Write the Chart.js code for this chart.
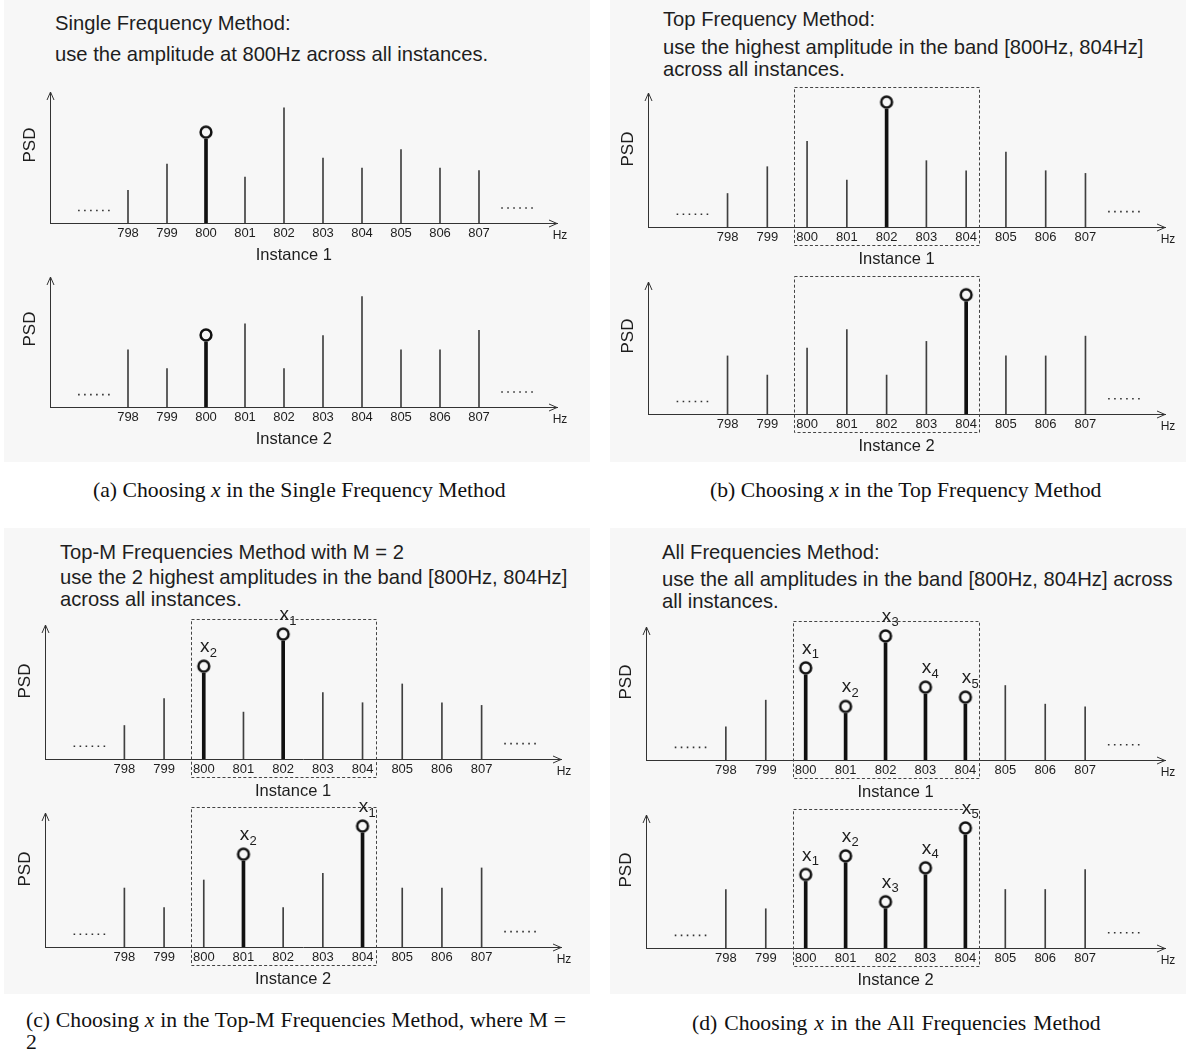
<!DOCTYPE html>
<html>
<head>
<meta charset="utf-8">
<script src="https://cdn.jsdelivr.net/npm/chart.js@4.4.1/dist/chart.umd.min.js"></script>
<style>
  html, body { margin: 0; padding: 0; background: #fff; }
  #page { position: relative; width: 1186px; height: 1064px; overflow: hidden;
          font-family: "Liberation Sans", Arial, sans-serif; color: #1e1e1e; }
  .bg { position: absolute; background: #f7f7f7; }
  .title { position: absolute; font-size: 20.2px; line-height: 1; white-space: nowrap; }
  .cap { position: absolute; font-family: "Liberation Serif", "Times New Roman", serif;
         font-size: 21.7px; line-height: 1; white-space: nowrap; color: #111; }
  canvas { position: absolute; }
</style>
</head>
<body>
<div id="page">
  <div class="bg" style="left:4px;top:0;width:586px;height:462px"></div>
  <div class="bg" style="left:610px;top:0;width:576px;height:462px"></div>
  <div class="bg" style="left:4px;top:528px;width:586px;height:466px"></div>
  <div class="bg" style="left:610px;top:528px;width:576px;height:466px"></div>

  <div class="title" style="left:55px;top:13px">Single Frequency Method:</div>
  <div class="title" style="left:55px;top:44px">use the amplitude at 800Hz across all instances.</div>

  <div class="title" style="left:663px;top:9px">Top Frequency Method:</div>
  <div class="title" style="left:663px;top:37px">use the highest amplitude in the band [800Hz, 804Hz]</div>
  <div class="title" style="left:663px;top:59px">across all instances.</div>

  <div class="title" style="left:60px;top:542px">Top-M Frequencies Method with M = 2</div>
  <div class="title" style="left:60px;top:567px">use the 2 highest amplitudes in the band [800Hz, 804Hz]</div>
  <div class="title" style="left:60px;top:589px">across all instances.</div>

  <div class="title" style="left:662px;top:542px">All Frequencies Method:</div>
  <div class="title" style="left:662px;top:569px">use the all amplitudes in the band [800Hz, 804Hz] across</div>
  <div class="title" style="left:662px;top:591px">all instances.</div>

  <div class="cap" style="left:93px;top:480px">(a) Choosing <i>x</i> in the Single Frequency Method</div>
  <div class="cap" style="left:710px;top:480px">(b) Choosing <i>x</i> in the Top Frequency Method</div>
  <div class="cap" style="left:26px;top:1010px;width:540px;text-align:justify;text-align-last:justify;white-space:normal">(c) Choosing <i>x</i> in the Top-M Frequencies Method, where M =</div>
  <div class="cap" style="left:26px;top:1032px">2</div>
  <div class="cap" style="left:692px;top:1013px;word-spacing:1.5px">(d) Choosing <i>x</i> in the All Frequencies Method</div>
</div>

<script>
// Frequenzen und Amplituden (PSD, 0..100 = Höhe der y-Achse)
const freqs = [798, 799, 800, 801, 802, 803, 804, 805, 806, 807];
const instance1 = [25, 45, 64, 35, 88, 49.5, 42, 56, 42, 40];
const instance2 = [44, 29.5, 50, 64, 29.5, 55, 85, 44, 44, 59];

// "......" links und rechts
const leftDotsX = [796.72, 797.57];
const leftDotsY = 9.5;
const rightDotsX = [807.57, 808.42];
const rightDotsY = 11.5;

// Band [800Hz, 804Hz]
const band = [799.67, 804.33];
const xRange = [796, 809];
const yRange = [0, 100];

// Ausgewählte Frequenzen pro Panel und deren Indizes (x_n)
const aPicks1 = [800], aPicks2 = [800];
const bPicks1 = [802], bPicks2 = [804];
const cPicks1 = [800, 802], cSubs1 = ['2', '1'];
const cPicks2 = [801, 804], cSubs2 = ['2', '1'];
const dPicks1 = [800, 801, 802, 803, 804], dSubs1 = ['1', '2', '3', '4', '5'];
const dPicks2 = [800, 801, 802, 803, 804], dSubs2 = ['1', '2', '3', '4', '5'];

const ink = '#1e1e1e';
const stemColor = '#404040';

// Kreis-Marker, der auf der Spitze des Stiels sitzt
function ringImage() {
    const r = 5.4, lw = 2.5;
    const w = Math.ceil(2 * r + lw + 2);
    const h = Math.ceil(w + 2 * r + lw);
    const c = document.createElement('canvas');
    c.width = w;
    c.height = h;
    const g = c.getContext('2d');
    g.lineWidth = lw;
    g.strokeStyle = '#111';
    g.beginPath();
    g.arc(w / 2, w / 2, r, 0, Math.PI * 2);
    g.stroke();
    return c;
}
const ring = ringImage();
const ringLift = ring.height / 2 - ring.width / 2;

const decorPlugin = {
    id: 'decor',
    afterDraw(chart, args, opts) {
        const ctx = chart.ctx;
        const area = chart.chartArea;
        const xs = chart.scales.x;
        ctx.save();
        ctx.strokeStyle = '#333';
        ctx.lineWidth = 1;

        // Pfeilspitzen der Achsen
        const ax = Math.round(area.left) + 0.5;
        const by = Math.round(area.bottom) + 0.5;
        ctx.beginPath();
        ctx.moveTo(ax - 3.5, area.top + 8);
        ctx.lineTo(ax, area.top);
        ctx.lineTo(ax + 3.5, area.top + 8);
        ctx.moveTo(area.right - 8, by - 3.5);
        ctx.lineTo(area.right, by);
        ctx.lineTo(area.right - 8, by + 3.5);
        ctx.stroke();

        // gestrichelter Kasten um das Band
        if (opts.band) {
            const x1 = Math.round(xs.getPixelForValue(opts.band[0])) + 0.5;
            const x2 = Math.round(xs.getPixelForValue(opts.band[1])) + 0.5;
            const y1 = Math.round(area.top - 6) + 0.5;
            const y2 = Math.round(area.bottom + 18) + 0.5;
            ctx.strokeStyle = '#444';
            ctx.setLineDash([3, 2.2]);
            ctx.strokeRect(x1, y1, x2 - x1, y2 - y1);
            ctx.setLineDash([]);
        }

        ctx.fillStyle = ink;
        ctx.textAlign = 'center';
        ctx.textBaseline = 'middle';
        ctx.font = '12px "Liberation Sans", Arial, sans-serif';
        ctx.fillText('Hz', area.right + 3, area.bottom + 12.5);

        ctx.font = '16.5px "Liberation Sans", Arial, sans-serif';
        ctx.fillText(opts.instance, xs.getPixelForValue(802.25), area.bottom + 32.5);

        ctx.save();
        ctx.translate(area.left - 20, area.bottom - 78);
        ctx.rotate(-Math.PI / 2);
        ctx.font = '17px "Liberation Sans", Arial, sans-serif';
        ctx.fillText('PSD', 0, 0);
        ctx.restore();

        // Beschriftung x_n über den Kreisen
        if (opts.subs) {
            const meta = chart.getDatasetMeta(2);
            ctx.textBaseline = 'alphabetic';
            meta.data.forEach((pt, i) => {
                const base = pt.y - ringLift - 14;
                ctx.font = '19px "Liberation Sans", Arial, sans-serif';
                ctx.textAlign = 'center';
                ctx.fillText('x', pt.x + 1, base);
                ctx.font = '13px "Liberation Sans", Arial, sans-serif';
                ctx.textAlign = 'left';
                ctx.fillText(opts.subs[i], pt.x + 6, base + 4.5);
            });
        }
        ctx.restore();
    }
};

function makeStemChart(p) {
    const padL = 45, padR = 25, padT = 45, padB = 45;
    const canvas = document.createElement('canvas');
    const w = Math.round(p.tipX - p.axisX) + padL + padR;
    const h = Math.round(p.baseline - p.axisTop) + padT + padB;
    canvas.width = w;
    canvas.height = h;
    canvas.style.left = Math.round(p.axisX - padL) + 'px';
    canvas.style.top = Math.round(p.axisTop - padT) + 'px';
    canvas.style.width = w + 'px';
    canvas.style.height = h + 'px';
    document.getElementById('page').appendChild(canvas);

    const thin = [], thick = [];
    freqs.forEach((f, i) => {
        const pt = { x: f, y: p.values[i] };
        if (p.picks.includes(f)) thick.push(pt); else thin.push(pt);
    });

    return new Chart(canvas.getContext('2d'), {
        type: 'bar',
        data: {
            datasets: [
                { data: thin, backgroundColor: stemColor, barThickness: 1, grouped: false },
                { data: thick, backgroundColor: '#111', barThickness: 3, grouped: false },
                {
                    type: 'line', data: thick, showLine: false, clip: false,
                    pointStyle: ring, pointRadius: 6, pointHoverRadius: 6
                },
                {
                    type: 'line', data: leftDotsX.map(x => ({ x: x, y: leftDotsY })),
                    borderColor: '#333', borderWidth: 1.6, borderDash: [1.6, 4.4], pointRadius: 0
                },
                {
                    type: 'line', data: rightDotsX.map(x => ({ x: x, y: rightDotsY })),
                    borderColor: '#333', borderWidth: 1.6, borderDash: [1.6, 4.4], pointRadius: 0
                }
            ]
        },
        options: {
            responsive: false,
            animation: false,
            events: [],
            layout: { padding: { left: padL, right: padR, top: padT, bottom: 0 } },
            plugins: {
                legend: { display: false },
                tooltip: { enabled: false },
                decor: { band: p.band, instance: p.instance, subs: p.subs }
            },
            scales: {
                x: {
                    type: 'linear',
                    min: xRange[0],
                    max: xRange[1],
                    offset: false,
                    grid: { display: false, drawTicks: false },
                    border: { display: true, color: '#333', width: 1 },
                    afterBuildTicks: scale => { scale.ticks = freqs.map(v => ({ value: v })); },
                    afterFit: scale => { scale.height = padB; },
                    ticks: {
                        autoSkip: false, maxRotation: 0, minRotation: 0, padding: 3,
                        color: ink,
                        font: { family: '"Liberation Sans", Arial, sans-serif', size: 13 },
                        callback: v => String(v)
                    }
                },
                y: {
                    min: yRange[0],
                    max: yRange[1],
                    grid: { display: false, drawTicks: false },
                    border: { display: true, color: '#333', width: 1 },
                    ticks: { display: false },
                    afterFit: scale => { scale.width = 0; }
                }
            }
        },
        plugins: [decorPlugin]
    });
}

const panels = [
    { axisX: 50, tipX: 557, axisTop: 91.7, baseline: 222.7, values: instance1, picks: aPicks1, instance: 'Instance 1' },
    { axisX: 50, tipX: 557, axisTop: 277.3, baseline: 407.7, values: instance2, picks: aPicks2, instance: 'Instance 2' },
    { axisX: 648, tipX: 1164.5, axisTop: 93.3, baseline: 227, values: instance1, picks: bPicks1, instance: 'Instance 1', band: band },
    { axisX: 648, tipX: 1164.5, axisTop: 281.7, baseline: 414, values: instance2, picks: bPicks2, instance: 'Instance 2', band: band },
    { axisX: 45, tipX: 560.5, axisTop: 625, baseline: 759.3, values: instance1, picks: cPicks1, subs: cSubs1, instance: 'Instance 1', band: band },
    { axisX: 45, tipX: 560.5, axisTop: 813.3, baseline: 947.7, values: instance2, picks: cPicks2, subs: cSubs2, instance: 'Instance 2', band: band },
    { axisX: 646, tipX: 1165, axisTop: 627.3, baseline: 760.7, values: instance1, picks: dPicks1, subs: dSubs1, instance: 'Instance 1', band: band },
    { axisX: 646, tipX: 1165, axisTop: 815, baseline: 948.3, values: instance2, picks: dPicks2, subs: dSubs2, instance: 'Instance 2', band: band }
];

panels.forEach(makeStemChart);
</script>
</body>
</html>
